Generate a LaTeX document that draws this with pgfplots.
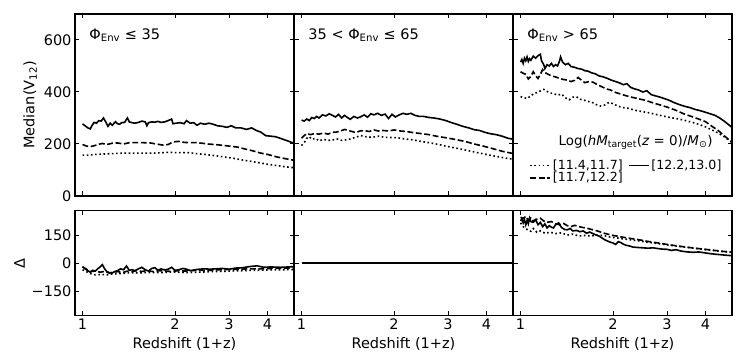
\documentclass[border=0pt]{standalone}
\usepackage{fontspec}
\setmainfont{DejaVu Sans}
\usepackage{pgfplots}
\pgfplotsset{compat=1.18}

\newcommand{\lab}{\fontsize{14.5}{17}\selectfont}
\newcommand{\leg}{\fontsize{12.6}{14}\selectfont}
\newcommand{\legt}{\fontsize{13.4}{15}\selectfont}

\pgfplotsset{
  panel/.style={
    scale only axis, width=219pt,
    xmin=0.945, xmax=4.88,
    xtick={1,2,3,4},
    tick align=inside, xtick pos=both, ytick pos=both,
    major tick length=4.5pt,
    tick style={black, line width=1pt},
    axis line style={black, line width=1.2pt},
    tick label style={font=\lab},
    label style={font=\lab},
    /pgf/number format/assume math mode=true,
  },
  toprow/.style={panel, height=182pt, ymin=0, ymax=700,
    ytick={0,200,400,600}, xticklabels={}},
  botrow/.style={panel, height=105pt, ymin=-280, ymax=280,
    ytick={-150,0,150}, xticklabels={1,2,3,4},
    xlabel={Redshift (1+z)}},
  sol/.style={black, line width=1.6pt, no marks, solid},
  das/.style={black, line width=1.6pt, no marks, dash pattern=on 5.9pt off 2.6pt},
  dot/.style={black, line width=1.6pt, no marks, dash pattern=on 1.6pt off 2.6pt},
}

\begin{document}
\begin{tikzpicture}
\path[use as bounding box] (0,0) rectangle (747pt,363pt);

% ---------- top row ----------
\begin{axis}[xmode=log, toprow, at={(75pt,167pt)}, anchor=south west,
  ylabel={Median(V\textsubscript{12})}]
\addplot[sol] coordinates {
(1.00,277)(1.02,270)(1.04,262)(1.06,258)(1.07,268)(1.09,283)(1.11,280)(1.13,290)(1.15,288)(1.17,300)(1.19,285)(1.21,268)(1.23,280)(1.25,272)(1.28,286)(1.30,278)(1.32,276)(1.34,282)(1.37,283)(1.40,300)(1.42,285)(1.45,282)(1.48,280)(1.52,283)(1.56,288)(1.60,285)(1.62,270)(1.64,282)(1.68,285)(1.72,284)(1.76,287)(1.80,283)(1.85,285)(1.90,290)(1.95,296)(1.97,278)(2.02,280)(2.08,282)(2.14,278)(2.18,290)(2.24,280)(2.30,282)(2.36,272)(2.42,280)(2.50,276)(2.58,280)(2.66,276)(2.75,270)(2.85,268)(2.95,264)(3.05,270)(3.15,262)(3.28,262)(3.42,256)(3.55,262)(3.68,252)(3.80,246)(3.95,232)(4.10,230)(4.25,228)(4.40,222)(4.60,214)(4.80,206)(4.95,202)
};
\addplot[das] coordinates {
(1.00,198)(1.03,192)(1.06,190)(1.09,193)(1.12,198)(1.16,202)(1.20,198)(1.25,203)(1.30,204)(1.36,200)(1.42,205)(1.50,205)(1.58,205)(1.66,204)(1.74,200)(1.82,196)(1.90,198)(1.97,208)(2.05,210)(2.15,206)(2.25,205)(2.35,205)(2.45,203)(2.55,200)(2.70,198)(2.85,195)(3.00,192)(3.20,188)(3.40,180)(3.60,173)(3.80,165)(4.00,160)(4.30,150)(4.60,143)(4.95,136)
};
\addplot[dot] coordinates {
(1.00,157)(1.05,157)(1.10,160)(1.20,162)(1.30,164)(1.40,165)(1.50,165)(1.60,165)(1.70,165)(1.80,166)(1.90,168)(2.00,167)(2.10,167)(2.20,167)(2.35,163)(2.50,160)(2.70,155)(2.90,150)(3.10,145)(3.30,139)(3.50,134)(3.75,128)(4.00,122)(4.30,117)(4.60,112)(4.95,108)
};
\node[anchor=west, font=\lab] at (rel axis cs:0.05,0.885) {Φ\textsubscript{Env} ≤ 35};
\end{axis}

\begin{axis}[xmode=log, toprow, at={(294pt,167pt)}, anchor=south west, yticklabels={}]
\addplot[sol] coordinates {
(1.00,292)(1.02,288)(1.04,296)(1.06,290)(1.08,302)(1.10,298)(1.12,306)(1.14,300)(1.17,312)(1.20,308)(1.23,316)(1.26,310)(1.29,304)(1.32,314)(1.35,300)(1.38,310)(1.41,302)(1.44,295)(1.48,306)(1.52,300)(1.56,305)(1.60,312)(1.64,303)(1.68,316)(1.72,312)(1.77,318)(1.82,310)(1.87,315)(1.92,298)(1.97,314)(2.02,304)(2.08,312)(2.14,318)(2.20,314)(2.27,318)(2.34,310)(2.42,306)(2.50,306)(2.60,302)(2.70,300)(2.82,296)(2.95,290)(3.08,282)(3.20,276)(3.35,268)(3.50,262)(3.65,255)(3.80,252)(3.95,245)(4.10,240)(4.30,236)(4.50,230)(4.70,222)(4.90,218)
};
\addplot[das] coordinates {
(1.00,222)(1.02,232)(1.04,240)(1.07,236)(1.10,240)(1.14,238)(1.18,242)(1.22,238)(1.26,245)(1.30,246)(1.34,250)(1.38,256)(1.42,252)(1.46,248)(1.50,244)(1.55,250)(1.60,252)(1.66,248)(1.72,254)(1.78,250)(1.84,252)(1.92,250)(2.00,254)(2.10,250)(2.20,248)(2.30,244)(2.45,240)(2.60,236)(2.75,230)(2.95,224)(3.15,218)(3.40,210)(3.65,200)(3.90,192)(4.20,182)(4.50,172)(4.90,163)
};
\addplot[dot] coordinates {
(1.00,194)(1.02,205)(1.04,222)(1.06,228)(1.08,218)(1.11,222)(1.14,212)(1.18,218)(1.22,214)(1.26,215)(1.30,220)(1.35,214)(1.40,216)(1.45,220)(1.50,226)(1.56,232)(1.62,228)(1.70,226)(1.78,230)(1.86,226)(1.95,225)(2.05,224)(2.15,220)(2.30,216)(2.45,210)(2.60,205)(2.80,198)(3.00,190)(3.25,182)(3.50,174)(3.80,165)(4.10,157)(4.50,148)(4.90,141)
};
\node[anchor=west, font=\lab] at (rel axis cs:0.05,0.885) {35 < Φ\textsubscript{Env} ≤ 65};
\end{axis}

\begin{axis}[xmode=log, toprow, at={(513pt,167pt)}, anchor=south west, yticklabels={},
  legend columns=2, transpose legend,
  legend cell align=left,
  legend image code/.code={\draw[#1] (0pt,0pt) -- (20pt,0pt);},
  legend style={draw=none, fill=none, font=\leg,
    at={(0.06,0.22)}, anchor=north west,
    row sep=-3pt,
    /tikz/every odd column/.append style={column sep=0pt},
    /tikz/every even column/.append style={column sep=3pt}},
  ]
\addplot[dot] coordinates {
(1.00,382)(1.03,378)(1.05,375)(1.08,385)(1.10,392)(1.13,398)(1.16,404)(1.19,410)(1.22,402)(1.25,396)(1.28,394)(1.32,388)(1.36,392)(1.40,378)(1.44,370)(1.48,380)(1.52,382)(1.56,372)(1.60,370)(1.65,364)(1.70,362)(1.76,352)(1.82,346)(1.88,350)(1.94,360)(2.00,355)(2.08,345)(2.16,340)(2.25,337)(2.35,330)(2.48,325)(2.62,320)(2.80,312)(3.00,304)(3.20,298)(3.40,292)(3.60,284)(3.80,276)(4.00,266)(4.20,254)(4.40,242)(4.60,228)(4.75,216)(4.90,205)
};
\addlegendentry{[11.4,11.7]}
\addplot[das] coordinates {
(1.00,478)(1.02,472)(1.04,468)(1.06,450)(1.08,460)(1.10,478)(1.12,462)(1.14,452)(1.16,468)(1.18,486)(1.20,475)(1.23,468)(1.26,462)(1.30,458)(1.34,452)(1.38,448)(1.42,446)(1.46,440)(1.50,445)(1.54,456)(1.58,445)(1.62,436)(1.67,440)(1.72,438)(1.78,428)(1.84,420)(1.90,412)(1.96,408)(2.04,398)(2.12,392)(2.20,386)(2.30,380)(2.42,374)(2.55,368)(2.70,358)(2.85,350)(3.00,342)(3.20,330)(3.40,316)(3.60,306)(3.80,296)(4.00,286)(4.20,268)(4.40,252)(4.60,232)(4.75,218)(4.90,205)
};
\addlegendentry{[11.7,12.2]}
\addplot[sol] coordinates {
(1.00,515)(1.01,525)(1.02,510)(1.03,530)(1.04,520)(1.05,535)(1.06,518)(1.07,528)(1.08,522)(1.10,538)(1.12,530)(1.14,540)(1.16,545)(1.17,520)(1.19,505)(1.20,490)(1.22,505)(1.24,500)(1.26,510)(1.28,498)(1.30,505)(1.32,500)(1.34,520)(1.35,535)(1.37,515)(1.40,505)(1.43,510)(1.46,498)(1.50,495)(1.54,490)(1.58,488)(1.62,482)(1.66,480)(1.70,474)(1.75,470)(1.80,462)(1.86,458)(1.92,452)(1.98,445)(2.04,440)(2.10,435)(2.16,428)(2.22,432)(2.28,418)(2.35,412)(2.42,408)(2.50,400)(2.58,405)(2.66,390)(2.75,385)(2.85,380)(2.95,374)(3.05,368)(3.15,360)(3.28,352)(3.42,345)(3.56,340)(3.70,333)(3.85,328)(4.00,322)(4.15,316)(4.30,310)(4.45,300)(4.60,288)(4.75,275)(4.90,262)
};
\addlegendentry{[12.2,13.0]}
\node[anchor=west, font=\lab] at (rel axis cs:0.05,0.885) {Φ\textsubscript{Env} > 65};
\node[font=\legt] at (rel axis cs:0.56,0.295) {Log(\textit{hM}\textsubscript{target}(\textit{z} = 0)/\textit{M}\textsubscript{⊙})};
\end{axis}

% ---------- bottom row ----------
\begin{axis}[xmode=log, botrow, at={(75pt,47.3pt)}, anchor=south west,
  yticklabels={−150,0,150}, ylabel={Δ}]
\addplot[sol] coordinates {
(1.00,-18)(1.02,-30)(1.04,-40)(1.06,-48)(1.08,-38)(1.10,-42)(1.12,-30)(1.14,-20)(1.16,-8)(1.18,-30)(1.20,-45)(1.22,-50)(1.24,-55)(1.27,-45)(1.30,-40)(1.33,-30)(1.36,-35)(1.39,-15)(1.42,-38)(1.45,-35)(1.48,-40)(1.52,-30)(1.56,-22)(1.60,-35)(1.64,-42)(1.68,-28)(1.72,-24)(1.76,-38)(1.80,-30)(1.85,-36)(1.90,-32)(1.95,-22)(2.00,-38)(2.06,-35)(2.12,-28)(2.18,-32)(2.25,-40)(2.32,-35)(2.40,-32)(2.50,-30)(2.60,-32)(2.72,-30)(2.85,-28)(3.00,-32)(3.15,-26)(3.30,-25)(3.50,-18)(3.70,-14)(3.90,-22)(4.10,-20)(4.40,-22)(4.70,-20)(4.95,-17)
};
\addplot[das] coordinates {
(1.00,-20)(1.03,-32)(1.06,-45)(1.10,-42)(1.14,-48)(1.18,-44)(1.22,-52)(1.26,-48)(1.30,-45)(1.35,-50)(1.40,-42)(1.45,-45)(1.50,-40)(1.56,-44)(1.62,-40)(1.70,-45)(1.78,-40)(1.86,-42)(1.95,-44)(2.05,-40)(2.15,-42)(2.25,-40)(2.40,-38)(2.60,-38)(2.80,-35)(3.00,-34)(3.25,-32)(3.50,-30)(3.80,-30)(4.10,-28)(4.50,-26)(4.95,-25)
};
\addplot[dot] coordinates {
(1.00,-35)(1.03,-45)(1.06,-55)(1.10,-62)(1.15,-60)(1.20,-62)(1.25,-58)(1.30,-56)(1.35,-55)(1.40,-52)(1.50,-52)(1.60,-50)(1.70,-50)(1.80,-50)(1.90,-48)(2.00,-48)(2.20,-50)(2.40,-48)(2.60,-45)(2.80,-44)(3.00,-42)(3.30,-40)(3.60,-38)(4.00,-36)(4.40,-35)(4.95,-34)
};
\end{axis}

\begin{axis}[xmode=log, botrow, at={(294pt,47.3pt)}, anchor=south west, yticklabels={}]
\addplot[sol] coordinates {(1.00,0)(4.95,0)};
\addplot[das] coordinates {(1.00,0)(4.95,0)};
\addplot[dot] coordinates {(1.00,0)(4.95,0)};
\end{axis}

\begin{axis}[xmode=log, botrow, at={(513pt,47.3pt)}, anchor=south west, yticklabels={}]
\addplot[sol] coordinates {
(1.00,225)(1.01,238)(1.02,215)(1.03,232)(1.04,205)(1.05,228)(1.06,210)(1.07,240)(1.08,222)(1.10,218)(1.12,232)(1.14,205)(1.16,218)(1.18,195)(1.20,210)(1.22,188)(1.24,200)(1.26,192)(1.28,188)(1.30,205)(1.33,215)(1.36,190)(1.39,180)(1.42,178)(1.45,185)(1.48,172)(1.52,175)(1.56,168)(1.60,172)(1.64,160)(1.68,166)(1.72,158)(1.76,150)(1.80,145)(1.84,135)(1.88,125)(1.92,118)(1.96,112)(2.00,108)(2.04,100)(2.08,115)(2.12,110)(2.16,102)(2.20,96)(2.26,92)(2.32,86)(2.40,84)(2.50,82)(2.60,80)(2.70,82)(2.80,78)(2.90,75)(3.00,74)(3.10,68)(3.20,72)(3.35,64)(3.50,60)(3.65,58)(3.80,60)(3.95,56)(4.10,52)(4.30,48)(4.50,45)(4.70,42)(4.90,40)
};
\addplot[das] coordinates {
(1.00,245)(1.02,238)(1.04,250)(1.06,230)(1.08,242)(1.10,225)(1.13,235)(1.16,240)(1.19,225)(1.22,218)(1.26,222)(1.30,210)(1.34,205)(1.38,212)(1.42,200)(1.46,195)(1.50,202)(1.55,195)(1.60,190)(1.66,185)(1.72,178)(1.78,172)(1.85,162)(1.92,155)(2.00,148)(2.10,142)(2.20,136)(2.32,130)(2.45,124)(2.60,116)(2.75,110)(2.90,104)(3.05,98)(3.25,92)(3.45,86)(3.70,80)(3.95,75)(4.20,70)(4.50,64)(4.90,58)
};
\addplot[dot] coordinates {
(1.00,215)(1.02,195)(1.04,185)(1.06,175)(1.08,170)(1.10,185)(1.13,165)(1.16,172)(1.20,160)(1.25,165)(1.30,158)(1.36,162)(1.42,150)(1.48,155)(1.55,145)(1.62,148)(1.70,145)(1.78,150)(1.86,148)(1.95,140)(2.05,135)(2.15,130)(2.30,124)(2.45,118)(2.60,112)(2.80,104)(3.00,98)(3.25,90)(3.50,84)(3.75,78)(4.00,72)(4.30,66)(4.60,62)(4.90,58)
};
\end{axis}
\end{tikzpicture}
\end{document}
